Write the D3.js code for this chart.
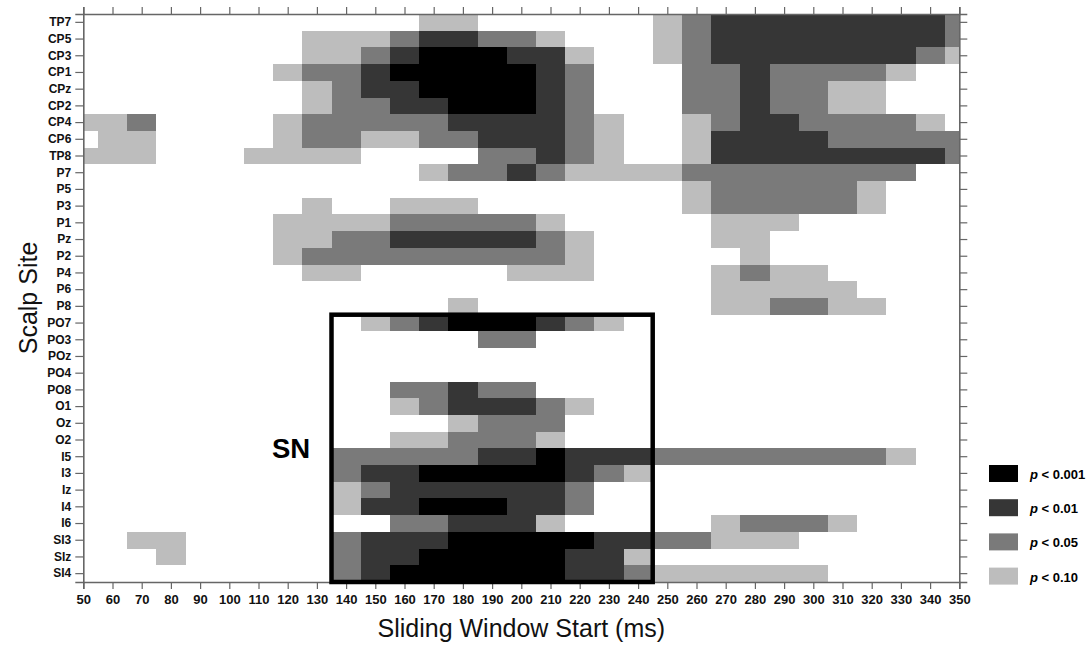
<!DOCTYPE html>
<html>
<head>
<meta charset="utf-8">
<script src="https://cdn.jsdelivr.net/npm/d3@7"></script>
<style>
  body { margin: 0; background: #fff; }
  svg text { font-family: Arial, "Liberation Sans", sans-serif; }
</style>
</head>
<body>
<div class="graph"></div>
<script>
// scalp sites, top to bottom
var sites = ["TP7","CP5","CP3","CP1","CPz","CP2","CP4","CP6","TP8","P7","P5","P3","P1","Pz","P2","P4","P6","P8",
             "PO7","PO3","POz","PO4","PO8","O1","Oz","O2","I5","I3","Iz","I4","I6","SI3","SIz","SI4"]

// window starts (ms), one cell per value
var windowStarts = d3.range(50, 351, 10)
var xTicks = d3.range(50, 351, 10)

// significance level per site and window: 0 none, 1 p<.10, 2 p<.05, 3 p<.01, 4 p<.001
var levels = [
  "0000000000001100000012333333332",
  "0000000011123322100012333333332",
  "0000000011234443310012333333321",
  "0000000122344444320002232222100",
  "0000000012334444320002232211000",
  "0000000012233444320002232211000",
  "1120000122222333321001233222210",
  "0110000122112233321001333322222",
  "1110001111000022321001333333332",
  "0000000000001223211112222222200",
  "0000000000000000000001222221000",
  "0000000010011100000001222221000",
  "0000000111122222100000111000000",
  "0000000112233333210000110000000",
  "0000000122222222210000010000000",
  "0000000011000001110000121100000",
  "0000000000000000000000111110000",
  "0000000000000100000000112211000",
  "0000000000123444321000000000000",
  "0000000000000022000000000000000",
  "0000000000000000000000000000000",
  "0000000000000000000000000000000",
  "0000000000022322000000000000000",
  "0000000000012333210000000000000",
  "0000000000000122200000000000000",
  "0000000000011222100000000000000",
  "0000000002222233433322222222100",
  "0000000002334444432100000000000",
  "0000000001233333320000000000000",
  "0000000001334443320000000000000",
  "0000000000022333100000122210000",
  "0011000002333444443322111000000",
  "0001000002334444433100000000000",
  "0000000002344444433211111100000"
]

var levelColors = ["#ffffff", "#bdbdbd", "#7a7a7a", "#363636", "#000000"]
var legendLabels = ["< 0.001", "< 0.01", "< 0.05", "< 0.10"]
var legendLevels = [4, 3, 2, 1]

// boxed region
var boxRange = [135, 245]
var boxFirstSite = "PO7"

var basewidth = 1092
var baseheight = 645

var svg = d3.select('.graph')
    .append('svg')
    .attr('width', basewidth)
    .attr('height', baseheight)

var x = d3.scaleLinear().domain([50, 350]).range([83.3, 959.3])
var y = d3.scaleBand().domain(sites).range([14, 582])

// cells
var cells = []
levels.forEach(function(row, i) {
    row.split('').forEach(function(c, j) {
        var v = +c
        if (v > 0) cells.push({site: sites[i], t: windowStarts[j], level: v})
    })
})

svg.append('g')
    .selectAll('rect')
    .data(cells)
    .enter().append('rect')
    .attr('x', d => x(Math.max(50, d.t - 5)))
    .attr('width', d => x(Math.min(350, d.t + 5)) - x(Math.max(50, d.t - 5)))
    .attr('y', d => y(d.site))
    .attr('height', y.bandwidth())
    .attr('fill', d => levelColors[d.level])
    .attr('shape-rendering', 'crispEdges')

// axes
var axisColor = '#666'
var leftAxis = svg.append('g')
    .attr('transform', 'translate(' + x(50) + ',0)')
    .call(d3.axisLeft(y).tickSize(8).tickPadding(4))
var rightAxis = svg.append('g')
    .attr('transform', 'translate(' + x(350) + ',0)')
    .call(d3.axisRight(y).tickSize(8).tickFormat(''))
var topAxis = svg.append('g')
    .attr('transform', 'translate(0,' + y.range()[0] + ')')
    .call(d3.axisTop(x).tickValues(xTicks).tickSize(7).tickFormat(''))
var bottomAxis = svg.append('g')
    .attr('transform', 'translate(0,' + y.range()[1] + ')')
    .call(d3.axisBottom(x).tickValues(xTicks).tickSize(7).tickPadding(6))

;[leftAxis, rightAxis, topAxis, bottomAxis].forEach(function(g) {
    g.select('.domain').attr('stroke', axisColor).attr('stroke-width', 1.6)
    g.selectAll('.tick line').attr('stroke', axisColor).attr('stroke-width', 1.2)
    g.selectAll('.tick text')
        .attr('fill', '#111')
        .style('font-family', 'Arial, "Liberation Sans", sans-serif')
        .style('font-weight', 'bold')
})
leftAxis.selectAll('.tick text').style('font-size', '12px')
bottomAxis.selectAll('.tick text').style('font-size', '13px')

// box around SN region
svg.append('rect')
    .attr('x', x(boxRange[0]))
    .attr('y', y(boxFirstSite))
    .attr('width', x(boxRange[1]) - x(boxRange[0]))
    .attr('height', y.range()[1] - y(boxFirstSite))
    .attr('fill', 'none')
    .attr('stroke', '#000')
    .attr('stroke-width', 4.5)

svg.append('text')
    .attr('x', 291)
    .attr('y', 458)
    .attr('text-anchor', 'middle')
    .style('font-size', '27.5px')
    .style('font-weight', 'bold')
    .text('SN')

// axis titles
svg.append('text')
    .attr('x', (x(50) + x(350)) / 2)
    .attr('y', 637)
    .attr('text-anchor', 'middle')
    .style('font-size', '25px')
    .attr('fill', '#111')
    .text('Sliding Window Start (ms)')

svg.append('text')
    .attr('transform', 'translate(37,' + ((y.range()[0] + y.range()[1]) / 2) + ') rotate(-90)')
    .attr('text-anchor', 'middle')
    .style('font-size', '25px')
    .attr('fill', '#111')
    .text('Scalp Site')

// legend
var legend = svg.append('g').attr('transform', 'translate(989,465)')
var item = legend.selectAll('g')
    .data(legendLevels)
    .enter().append('g')
    .attr('transform', (d, i) => 'translate(0,' + (i * 34.2) + ')')
item.append('rect')
    .attr('width', 29)
    .attr('height', 17)
    .attr('fill', d => levelColors[d])
item.append('text')
    .attr('x', 41)
    .attr('y', 14)
    .style('font-size', '13px')
    .style('font-weight', 'bold')
    .each(function(d, i) {
        var t = d3.select(this)
        t.append('tspan').style('font-style', 'italic').text('p')
        t.append('tspan').text(' ' + legendLabels[i])
    })
</script>
</body>
</html>
